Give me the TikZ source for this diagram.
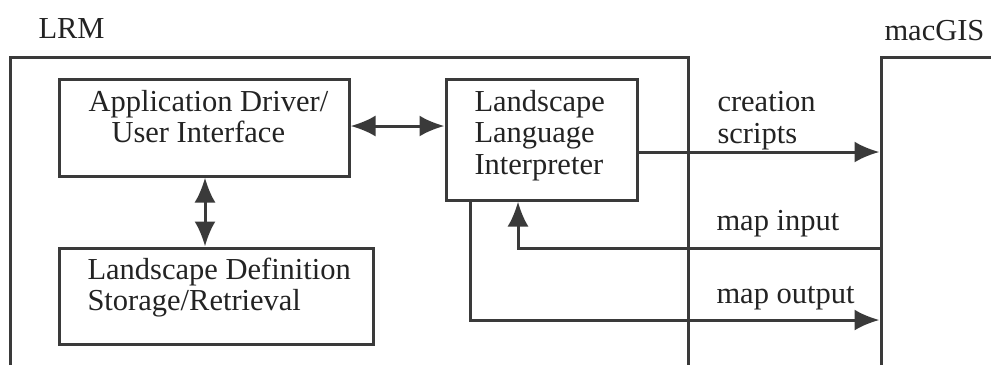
\documentclass[tikz,border=0pt]{standalone}
\usepackage{fontspec}
\setmainfont{Liberation Serif}
\usetikzlibrary{arrows.meta}
\definecolor{ink}{RGB}{58,58,58}
\definecolor{txt}{RGB}{35,35,35}
\begin{document}
\begin{tikzpicture}[x=1pt,y=-1pt,
  line width=3pt, draw=ink,
  boxnode/.style={draw=ink, line width=3pt, inner sep=0pt, rectangle},
  lbl/.style={anchor=base west, inner sep=0pt, text=txt, font=\fontsize{30.5}{31.5}\selectfont},
  arr/.style={-{Latex[length=25pt,width=21pt]}},
  darr/.style={{Latex[length=25pt,width=21pt]}-{Latex[length=25pt,width=21pt]}}]
\useasboundingbox (0,0) rectangle (991,365);
% outer frames
\coordinate (lrmBL) at (10,365);
\coordinate (lrmTL) at (10,57);
\coordinate (lrmTR) at (688,57);
\coordinate (lrmBR) at (688,365);
\draw[ink] (lrmBL) -- (lrmTL) -- (lrmTR) -- (lrmBR);
\coordinate (gisBL) at (881,365);
\coordinate (gisTL) at (881,57);
\coordinate (gisTR) at (992,57);
\draw[ink] (gisBL) -- (gisTL) -- (gisTR);
\node[lbl] (lrm) at (37,38) {LRM};
\node[lbl] (macgis) at (883,40) {macGIS};
% boxes
\node[boxnode, minimum width=290pt, minimum height=97pt] (app) at (204,127.5) {};
\node[boxnode, minimum width=191pt, minimum height=120.5pt] (interp) at (541.5,139.75) {};
\node[boxnode, minimum width=314pt, minimum height=96pt] (store) at (216,296) {};
% box texts
\node[lbl] (app1) at (87,111) {Application Driver/};
\node[lbl] (app2) at (110,142) {User Interface};
\node[lbl] (int1) at (473,111) {Landscape};
\node[lbl] (int2) at (473,142.5) {Language};
\node[lbl] (int3) at (473,174) {Interpreter};
\node[lbl] (sto1) at (86,279) {Landscape Definition};
\node[lbl] (sto2) at (86,310) {Storage/Retrieval};
% connector labels
\node[lbl] (cre1) at (716,111) {creation};
\node[lbl] (cre2) at (716,143) {scripts};
\node[lbl] (mapin) at (715,230) {map input};
\node[lbl] (mapout) at (715,303) {map output};
% connectors
\draw[darr, ink] (app.east |- 0,126) -- (interp.west |- 0,126);
\draw[darr, ink] (app.south -| 205,0) -- (store.north -| 205,0);
\draw[arr, ink] (interp.east |- 0,152) -- ([xshift=-1.5pt]gisTL |- 0,152);
\draw[arr, ink] ([xshift=-1.5pt]gisTL |- 0,248) -| (interp.south -| 518,0);
\draw[arr, ink] (interp.south -| 470,0) |- ([xshift=-1.5pt]gisTL |- 0,320);
\end{tikzpicture}
\end{document}
